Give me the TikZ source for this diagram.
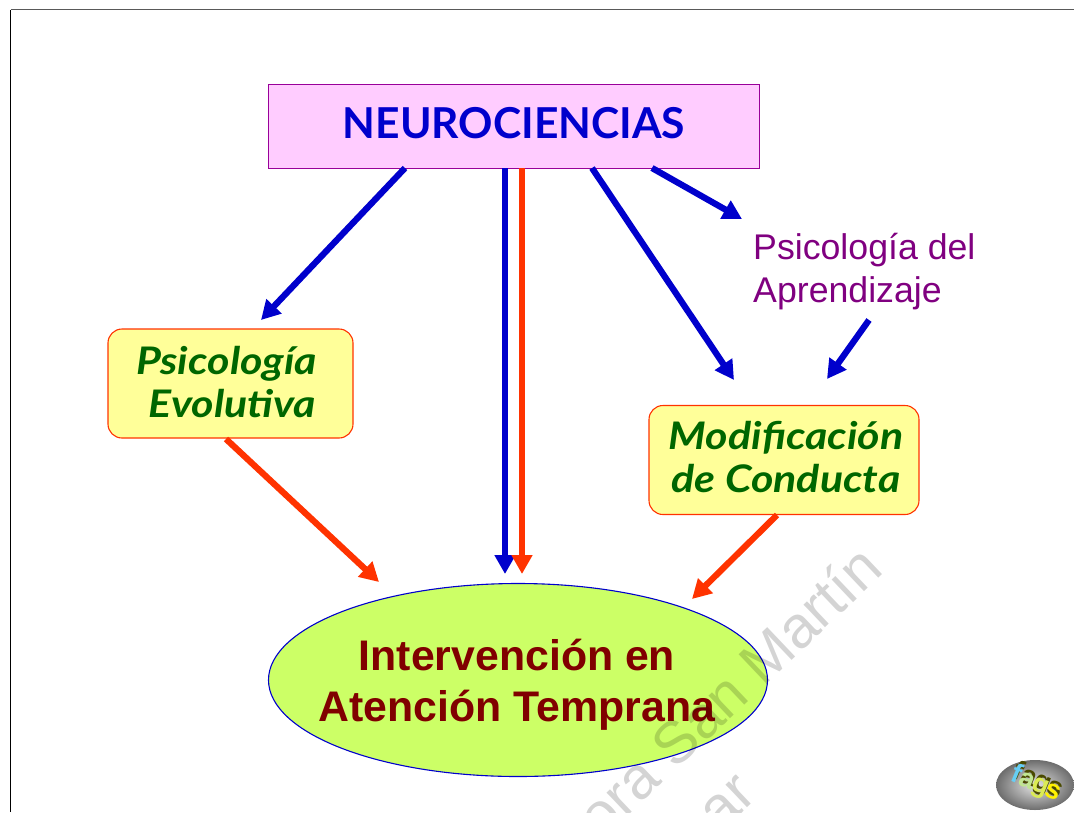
\documentclass[tikz,border=0pt]{standalone}
\usepackage{fontspec}
\setmainfont{Liberation Sans}
\newfontfamily\casual{Lato}
\newfontfamily\casualwide[FakeStretch=1.13]{Lato}
\usetikzlibrary{shapes.geometric,arrows.meta}
\definecolor{pinkfill}{HTML}{FFCCFF}
\definecolor{pinkline}{HTML}{990099}
\definecolor{nblue}{HTML}{0000CC}
\definecolor{nred}{HTML}{FF3300}
\definecolor{yellowfill}{HTML}{FFFF99}
\definecolor{limefill}{HTML}{CCFF66}
\definecolor{dgreen}{HTML}{006600}
\definecolor{dred}{HTML}{800000}
\definecolor{purpletext}{HTML}{800080}
\definecolor{fagshadow}{HTML}{4A4A00}
\tikzset{
  x=1pt,y=-1pt,
  headbox/.style={draw=pinkline,fill=pinkfill,line width=1pt,minimum width=491pt,minimum height=84pt,inner sep=0pt},
  headtext/.style={inner sep=0pt,text=nblue,font=\casual\bfseries\fontsize{42.6}{46}\selectfont},
  softbox/.style={draw=nred,fill=yellowfill,line width=1.1pt,rounded corners=14pt,inner sep=0pt},
  softtext/.style={inner sep=0pt,text=dgreen,align=center,font=\casualwide\bfseries\itshape\fontsize{38}{43}\selectfont},
  goal/.style={ellipse,draw=nblue,fill=limefill,line width=1.1pt,minimum width=499pt,minimum height=193pt,inner sep=0pt},
  goaltext/.style={inner sep=0pt,text=dred,align=center,font=\bfseries\fontsize{42.8}{51}\selectfont},
  plain label/.style={text=purpletext,align=left,inner sep=0pt,font=\fontsize{35.7}{43}\selectfont},
  bluearrow/.style={draw=nblue,line width=6.3pt,-{Triangle[length=19pt,width=20pt]}},
  redarrow/.style={draw=nred,line width=6.3pt,-{Triangle[length=19pt,width=20pt]}},
  mark text/.style={text=black,text opacity=0.17,rotate=43.5,inner sep=0pt,anchor=base east,font=\fontsize{59}{59}\selectfont},
  fagsletter/.style={rotate=-22,inner sep=0pt,anchor=base,font=\bfseries\fontsize{27}{27}\selectfont},
}
\begin{document}
\begin{tikzpicture}
\useasboundingbox (0,0) rectangle (1074,812);
\draw[draw=black!65,line width=1pt] (10.5,9.5) -- (1074,9.5);
\draw[draw=black,line width=1.5pt] (10.5,812) -- (10.5,9.5);

\node[headbox] (neuro) at (514,126) {};
\node[headtext] (neurotext) at (514,123) {NEUROCIENCIAS};
\node[softbox,minimum width=245pt,minimum height=109pt] (evol) at (230.5,383.5) {};
\node[softtext] (evoltext) at (226.5,382.5) {Psicología\\ \hspace*{12pt}Evolutiva};
\node[softbox,minimum width=270pt,minimum height=109pt] (modif) at (784,460) {};
\node[softtext] (modiftext) at (786,457.5) {Modificación\\de Conducta};
\node[goal] (goalnode) at (518,680) {};
\node[goaltext] (goaltextnode) at (517,685) {Intervención en\\Atención Temprana};
\node[plain label,anchor=north west] (apren) at (753,233) {Psicología del\\Aprendizaje};

\coordinate (a1) at (405,168); \coordinate (a1e) at (261,320);
\coordinate (a2) at (505,168); \coordinate (a2e) at (505,574);
\coordinate (a3) at (522,168); \coordinate (a3e) at (522,574);
\coordinate (a4) at (592,168); \coordinate (a4e) at (734,380);
\coordinate (a5) at (652,168); \coordinate (a5e) at (742,219);
\coordinate (a6) at (869,320); \coordinate (a6e) at (827,379);
\coordinate (a7) at (226,439); \coordinate (a7e) at (379,582);
\coordinate (a8) at (777,515); \coordinate (a8e) at (692,599);

\draw[bluearrow] (a1) -- (a1e);
\draw[bluearrow] (a2) -- (a2e);
\draw[redarrow]  (a3) -- (a3e);
\draw[bluearrow] (a4) -- (a4e);
\draw[bluearrow] (a5) -- (a5e);
\draw[bluearrow] (a6) -- (a6e);
\draw[redarrow]  (a7) -- (a7e);
\draw[redarrow]  (a8) -- (a8e);

\begin{scope}
\clip (0,0) rectangle (1074,812);
\node[mark text] (wm1) at (885,572) {ora San Martín};
\node[mark text] (wm2) at (759,797) {ar};
\shade[inner color=white!80!gray,outer color=gray!85!black] (1035,785) ellipse [x radius=39,y radius=25];
\foreach \ox/\oy/\lt/\col [count=\i] in {1014/782/f/cyan!60!white,1024/787/a/cyan!35!yellow!70!white,1038/793/g/yellow!80!green!70!white,1050/798/s/yellow}{
  \node[fagsletter,text=fagshadow] (fs\i) at (\ox+2,\oy-3) {\lt};
  \node[fagsletter,text=\col] (ft\i) at (\ox,\oy) {\lt};
}
\end{scope}
\end{tikzpicture}
\end{document}
